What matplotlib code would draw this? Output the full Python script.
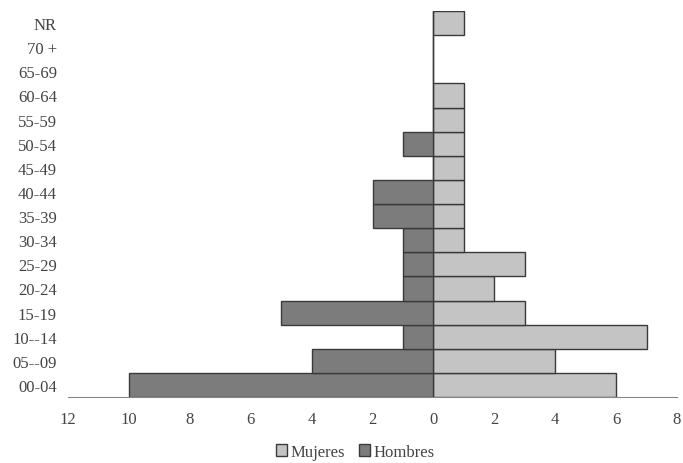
import matplotlib
matplotlib.use("Agg")
import matplotlib.pyplot as plt
import numpy as np

categories = ["00-04", "05--09", "10--14", "15-19", "20-24", "25-29", "30-34",
              "35-39", "40-44", "45-49", "50-54", "55-59", "60-64", "65-69",
              "70 +", "NR"]
mujeres = [6, 4, 7, 3, 2, 3, 1, 1, 1, 1, 1, 1, 1, 0, 0, 1]
hombres = [10, 4, 1, 5, 1, 1, 1, 2, 2, 0, 1, 0, 0, 0, 0, 0]
xticks = [-12, -10, -8, -6, -4, -2, 0, 2, 4, 6, 8]
xticklabels = ["12", "10", "8", "6", "4", "2", "0", "2", "4", "6", "8"]

plt.rcParams['font.family'] = ['Liberation Serif', 'DejaVu Serif']

fig = plt.figure(figsize=(6.83, 4.64), dpi=100)
ax = fig.add_axes([68/683, 1 - 398/464, (677 - 68)/683, (398 - 12)/464])

y = np.arange(len(categories))
ax.barh(y, mujeres, height=1.0, color="#c4c4c4", edgecolor="#3a3a3a",
        linewidth=1.0, label="Mujeres")
ax.barh(y, [-h for h in hombres], height=1.0, color="#7c7c7c",
        edgecolor="#3a3a3a", linewidth=1.0, label="Hombres")

ax.set_xlim(-12, 8)
ax.set_ylim(-0.5, len(categories) - 0.5)
ax.set_yticks(y)
ax.set_yticklabels(categories, fontsize=12, color="#444444")
ax.set_xticks(xticks)
ax.set_xticklabels(xticklabels, fontsize=12, color="#444444")
ax.tick_params(axis="y", length=0, pad=8)
ax.tick_params(axis="x", length=0, pad=10)
for s in ["top", "right", "left"]:
    ax.spines[s].set_visible(False)
ax.spines["bottom"].set_color("#888888")
ax.spines["bottom"].set_linewidth(0.8)

leg = fig.legend(loc="lower center", bbox_to_anchor=(0.52, -0.025), ncol=2,
                 frameon=False, fontsize=12, handlelength=0.7, handleheight=0.7,
                 handletextpad=0.2, columnspacing=0.8)
for t in leg.get_texts():
    t.set_color("#444444")

fig.savefig("out.png", dpi=100)
